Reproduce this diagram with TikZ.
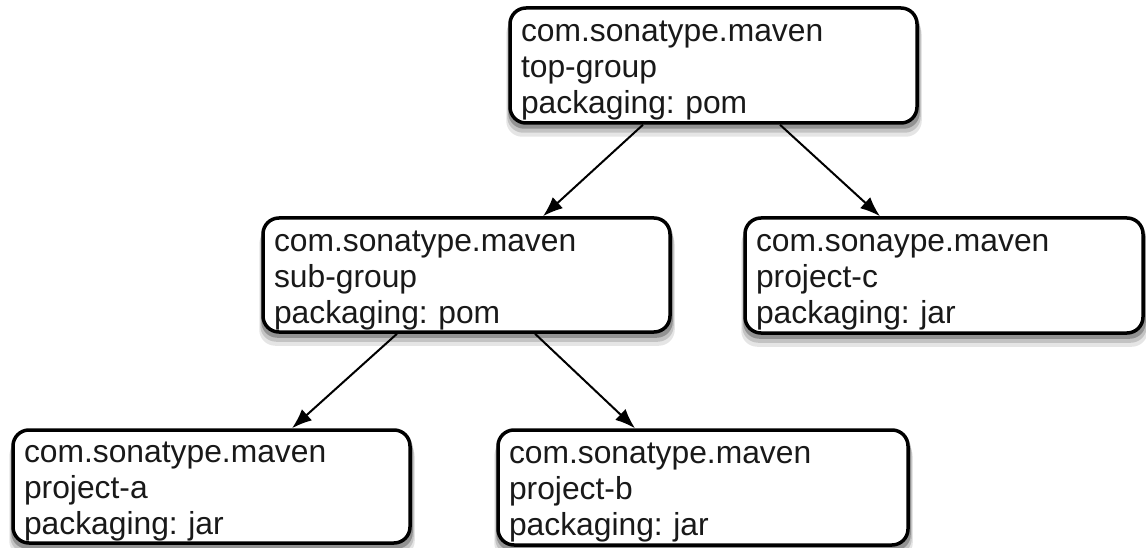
\documentclass[tikz,border=0pt]{standalone}
\usepackage{fontspec}
\setmainfont{Liberation Sans}
\usetikzlibrary{arrows.meta,calc}
\pgfdeclarelayer{bg}
\pgfsetlayers{bg,main}
\frenchspacing
\begin{document}
\begin{tikzpicture}[x=1pt,y=-1pt,
  box/.style={draw=black, line width=3.5pt, rounded corners=16pt, fill=white,
    inner xsep=11pt, inner ysep=0pt, align=left, anchor=center,
    font=\fontsize{31.8}{36}\selectfont, text=black!90},
  shade/.style={fill=black, rounded corners=16pt},
  link/.style={line width=2pt, -{Latex[length=20pt,width=15pt]}}]
\useasboundingbox (0,0) rectangle (1146,548);
\newcommand{\fs}{\rule{0pt}{31pt}}
\node[box, minimum width=407pt, minimum height=115pt, text width=385pt] (top) at (713.5,65.5)
  {\fs com.sonatype.maven\\top-group\\packaging: pom};
\node[box, minimum width=407pt, minimum height=114pt, text width=385pt] (sub) at (466.5,275)
  {\fs com.sonatype.maven\\sub-group\\packaging: pom};
\node[box, minimum width=398pt, minimum height=115pt, text width=376pt] (pc) at (944,275.5)
  {\fs com.sonaype.maven\\project-c\\packaging: jar};
\node[box, minimum width=397pt, minimum height=113pt, text width=375pt] (pa) at (211.5,486.5)
  {\fs com.sonatype.maven\\project-a\\packaging: jar};
\node[box, minimum width=410pt, minimum height=115pt, text width=388pt] (pb) at (703,487.5)
  {\fs com.sonatype.maven\\project-b\\packaging: jar};
\begin{pgfonlayer}{bg}
  \foreach \n in {top,sub,pc,pa,pb}{
    \fill[shade, opacity=0.10] ([xshift=-2pt,yshift=-12pt]\n.north west) rectangle ([xshift=3pt,yshift=-12pt]\n.south east);
    \fill[shade, opacity=0.15] ([xshift=-1pt,yshift=-8pt]\n.north west) rectangle ([xshift=2pt,yshift=-8pt]\n.south east);
    \fill[shade, opacity=0.25] ([xshift=0pt,yshift=-4pt]\n.north west) rectangle ([xshift=1pt,yshift=-4pt]\n.south east);
  }
\end{pgfonlayer}
\draw[link] ([xshift=-70.5pt]top.south) -- ([xshift=76.5pt]sub.north);
\draw[link] ([xshift=66.5pt]top.south) -- ([xshift=-64pt]pc.north);
\draw[link] ([xshift=-69.5pt]sub.south) -- ([xshift=80.5pt]pa.north);
\draw[link] ([xshift=68.5pt]sub.south) -- ([xshift=-68pt]pb.north);
\end{tikzpicture}
\end{document}
